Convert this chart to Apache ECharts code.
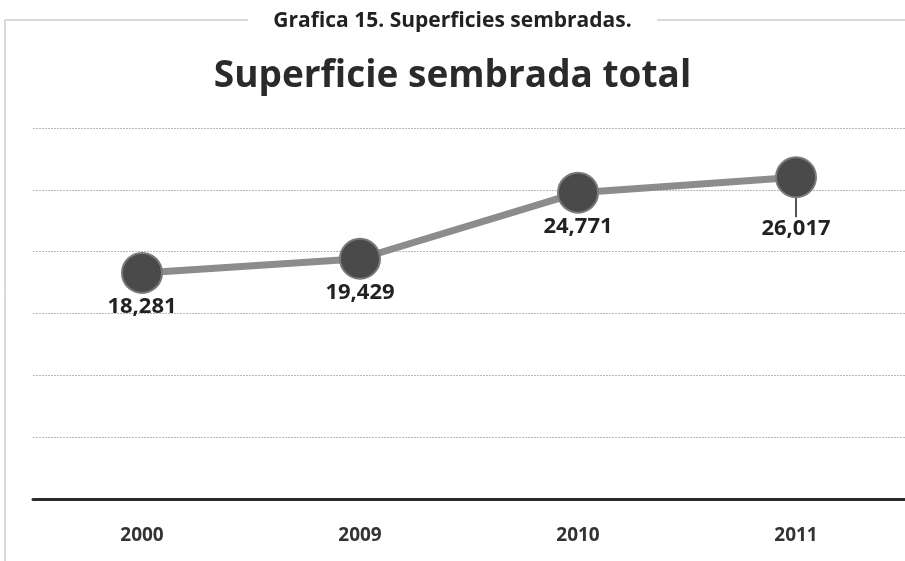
<!DOCTYPE html>
<html>
<head>
<meta charset="utf-8">
<script src="https://cdn.jsdelivr.net/npm/echarts@6/dist/echarts.min.js"></script>
<style>
  html, body { margin: 0; padding: 0; background: #fff; }
  #chart { width: 905px; height: 561px; }
</style>
</head>
<body>
<div id="chart"></div>
<script>
// datos de la gráfica
const years = ['2000', '2009', '2010', '2011'];
const superficie = [18281, 19429, 24771, 26017];

// sólo la etiqueta de 2011 lleva línea guía
const puntos = superficie.map((v, i) => (i === 3
    ? { value: v, labelLine: { show: true, lineStyle: { color: '#555', width: 2 } } }
    : v));

const chart = echarts.init(document.getElementById('chart'));
chart.setOption({
    backgroundColor: '#fff',
    animation: false,
    graphic: [
        {
            type: 'polyline',
            shape: { points: [[5, 561], [5, 20], [905, 20]] },
            style: { stroke: '#b5b5b5', lineWidth: 1, fill: null },
            z: 0
        },
        {
            type: 'rect',
            shape: { x: 248, y: 2, width: 409, height: 36 },
            style: { fill: '#fff' },
            z: 1
        }
    ],
    title: [
        {
            text: 'Grafica 15. Superficies sembradas.',
            left: 'center',
            top: 6,
            textStyle: { fontFamily: 'Open Sans', fontWeight: 'bold', fontSize: 21, color: '#222' }
        },
        {
            text: 'Superficie sembrada total',
            left: 'center',
            top: 53,
            textStyle: { fontFamily: 'Open Sans', fontWeight: 'bold', fontSize: 37, color: '#2a2a2a' }
        }
    ],
    grid: { left: 33, right: 0, top: 128, bottom: 62 },
    xAxis: {
        type: 'category',
        data: years,
        axisTick: { show: false },
        axisLine: { lineStyle: { color: '#2b2b2b', width: 3 } },
        axisLabel: {
            margin: 27,
            fontFamily: 'Open Sans',
            fontWeight: 'bold',
            fontSize: 19,
            color: '#333'
        }
    },
    yAxis: {
        type: 'value',
        min: 0,
        max: 30000,
        interval: 5000,
        axisLabel: { show: false },
        axisLine: { show: false },
        axisTick: { show: false },
        splitLine: { lineStyle: { color: '#b8b8b8', width: 1, type: [2, 1] } }
    },
    series: [
        {
            type: 'line',
            data: puntos,
            symbol: 'circle',
            symbolSize: 40,
            lineStyle: { color: '#8c8c8c', width: 7 },
            itemStyle: { color: '#4a4a4a', borderColor: '#7a7a7a', borderWidth: 2 },
            label: {
                show: true,
                position: 'bottom',
                distance: 2,
                fontFamily: 'Open Sans',
                fontWeight: 'bold',
                fontSize: 22,
                color: '#222',
                formatter: p => p.value.toLocaleString('en-US')
            },
            labelLayout: p => (p.dataIndex === 3 ? { dy: 17 } : null)
        }
    ]
});
</script>
</body>
</html>
